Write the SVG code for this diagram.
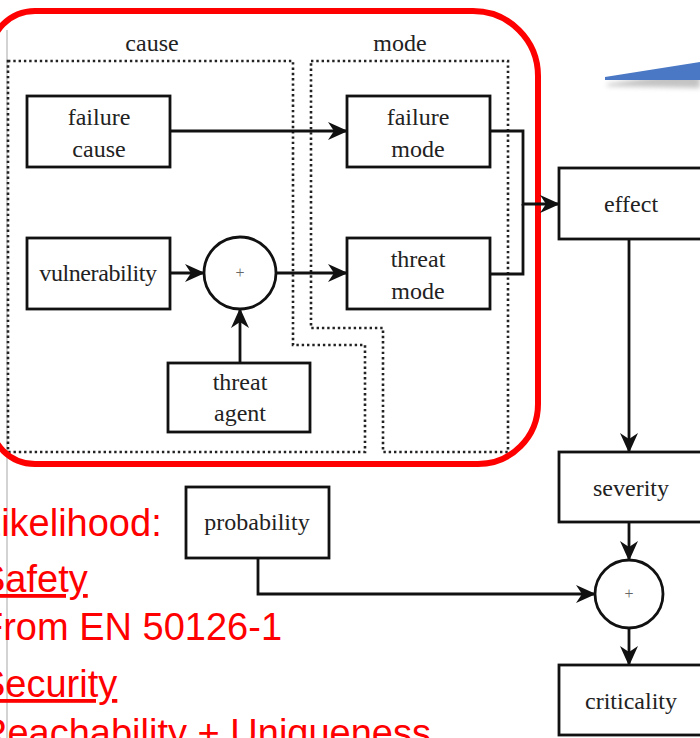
<svg xmlns="http://www.w3.org/2000/svg" width="700" height="738" viewBox="0 0 700 738">
  <style>
    .box { fill: #ffffff; stroke: #111111; stroke-width: 2.8; }
    .sum { fill: #ffffff; stroke: #111111; stroke-width: 2.8; }
    .lbl { font-family: "Liberation Serif", "Times New Roman", serif; font-size: 24px; fill: #222222; text-anchor: middle; }
    .plus { font-family: "Liberation Serif", serif; font-size: 16px; fill: #666666; text-anchor: middle; }
    .zone { fill: none; stroke: #222222; stroke-width: 2.6; stroke-dasharray: 2.4 2.9; }
    .wire { fill: none; stroke: #111111; stroke-width: 2.8; }
    .note { font-family: "Liberation Sans", Arial, sans-serif; font-size: 38px; fill: #ff0000; }
  </style>
  <defs>
    <marker id="arrow" viewBox="0 0 20 18" refX="19" refY="9" markerWidth="20" markerHeight="18" markerUnits="userSpaceOnUse" orient="auto">
      <path d="M0,0 L20,9 L0,18 L6,9 Z" fill="#111111"/>
    </marker>
    <filter id="soft" x="-20%" y="-50%" width="140%" height="300%">
      <feGaussianBlur stdDeviation="2.5"/>
    </filter>
  </defs>

  <rect width="700" height="738" fill="#ffffff"/>

  <!-- thin page margin line -->
  <line x1="7" y1="30" x2="7" y2="738" stroke="#c4c4c4" stroke-width="1.5"/>

  <!-- callout wedge -->
  <g id="callout">
    <polygon points="607,84 700,70 700,88 607,86" fill="#888888" opacity="0.5" filter="url(#soft)"/>
    <polygon points="605,77 700,62 700,80 605,80" fill="#4a78c4"/>
  </g>

  <!-- grouping regions -->
  <g id="zone-cause">
    <polygon class="zone" points="8,61 293,61 293,345 365,345 365,452 8,452"/>
    <text class="lbl" x="152" y="51" font-size="25">cause</text>
  </g>
  <g id="zone-mode">
    <polygon class="zone" points="311,61 508,61 508,452 383,452 383,328 311,328"/>
    <text class="lbl" x="400" y="51" font-size="25">mode</text>
  </g>

  <!-- highlight frame -->
  <path d="M35,11 H473 A65,65 0 0 1 538,76 V404 A60,60 0 0 1 478,464 H35 A45,45 0 0 1 -10,419 V56 A45,45 0 0 1 35,11 Z" fill="none" stroke="#ff0000" stroke-width="6"/>

  <!-- connectors -->
  <g id="connectors">
    <path class="wire" d="M170,131 H347" marker-end="url(#arrow)"/>
    <path class="wire" d="M170,273 H204" marker-end="url(#arrow)"/>
    <path class="wire" d="M240,363 V309" marker-end="url(#arrow)"/>
    <path class="wire" d="M276,273 H347" marker-end="url(#arrow)"/>
    <path class="wire" d="M490,131 H523 V204 H559" marker-end="url(#arrow)"/>
    <path class="wire" d="M490,274 H523 V204"/>
    <path class="wire" d="M629,239 V452" marker-end="url(#arrow)"/>
    <path class="wire" d="M629,522 V560" marker-end="url(#arrow)"/>
    <path class="wire" d="M629,628 V665" marker-end="url(#arrow)"/>
    <path class="wire" d="M258,558 V594 H595" marker-end="url(#arrow)"/>
  </g>

  <!-- nodes -->
  <g id="failure-cause">
    <rect class="box" x="27" y="96" width="143" height="71"/>
    <text class="lbl" x="99" y="125">failure</text>
    <text class="lbl" x="99" y="157">cause</text>
  </g>
  <g id="failure-mode">
    <rect class="box" x="347" y="96" width="143" height="71"/>
    <text class="lbl" x="418" y="125">failure</text>
    <text class="lbl" x="418" y="157">mode</text>
  </g>
  <g id="vulnerability">
    <rect class="box" x="27" y="238" width="143" height="71"/>
    <text class="lbl" x="98" y="281" font-size="25" letter-spacing="-0.4">vulnerability</text>
  </g>
  <g id="combine-threat">
    <circle class="sum" cx="240" cy="273" r="36"/>
    <text class="plus" x="240" y="278">+</text>
  </g>
  <g id="threat-mode">
    <rect class="box" x="347" y="238" width="143" height="71"/>
    <text class="lbl" x="418" y="267">threat</text>
    <text class="lbl" x="418" y="299">mode</text>
  </g>
  <g id="threat-agent">
    <rect class="box" x="168" y="363" width="142" height="69"/>
    <text class="lbl" x="240" y="390">threat</text>
    <text class="lbl" x="240" y="421">agent</text>
  </g>
  <g id="effect">
    <rect class="box" x="559" y="168" width="150" height="71"/>
    <text class="lbl" x="631" y="212">effect</text>
  </g>
  <g id="severity">
    <rect class="box" x="559" y="452" width="150" height="70"/>
    <text class="lbl" x="631" y="496">severity</text>
  </g>
  <g id="combine-risk">
    <circle class="sum" cx="629" cy="594" r="34"/>
    <text class="plus" x="629" y="599">+</text>
  </g>
  <g id="criticality">
    <rect class="box" x="559" y="665" width="150" height="70"/>
    <text class="lbl" x="631" y="709">criticality</text>
  </g>
  <g id="probability">
    <rect class="box" x="186" y="487" width="143" height="71"/>
    <text class="lbl" x="257" y="530">probability</text>
  </g>

  <!-- slide notes, running off the left page edge -->
  <g id="notes">
    <text class="note" x="-20" y="536">Likelihood:</text>
    <text class="note" x="-20" y="592" text-decoration="underline">Safety</text>
    <text class="note" x="-20" y="640">From EN 50126-1</text>
    <text class="note" x="-20" y="697" text-decoration="underline">Security</text>
    <text class="note" x="-20" y="746">Reachability + Uniqueness</text>
  </g>
</svg>
